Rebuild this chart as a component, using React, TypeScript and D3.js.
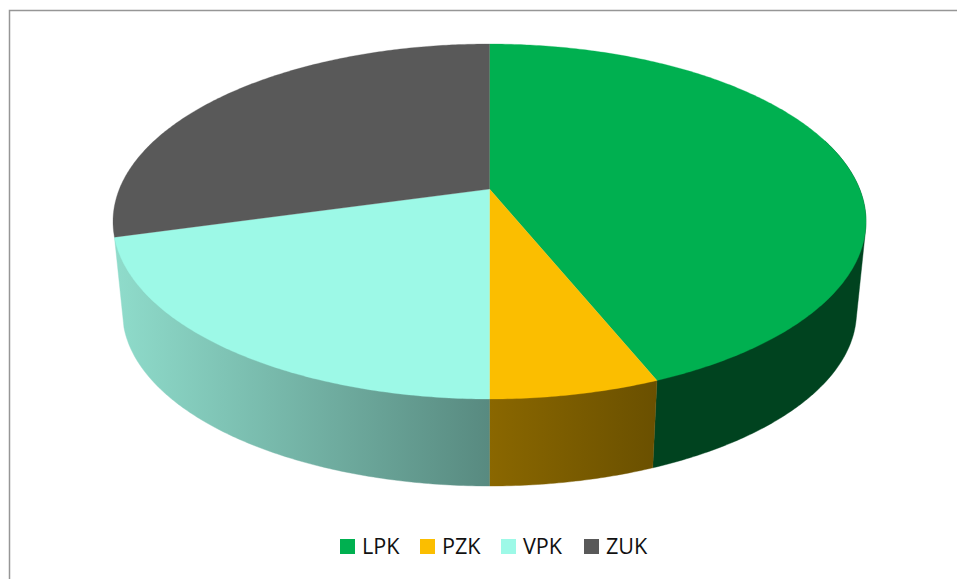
import React from "react";
import * as d3 from "d3";

const categories = ["LPK", "PZK", "VPK", "ZUK"];
const shares = [43.87, 6.13, 20.7, 29.3];
const topColors = ["#00B050", "#FBBE00", "#9DF9E7", "#595959"];
const wallFrom = ["#00431F", "#8A6700", "#8FDCCB", "#3A3A3A"];
const wallTo = ["#00431F", "#6A5000", "#588A80", "#3A3A3A"];

const W = 957, H = 579;
const top = { cx: 489.5, cy: 221.5, rx: 376.5, ry: 177.5 };
const bottom = { cx: 489.5, cy: 312, rx: 367, ry: 174 };
const tilt = -0.183; // perspective shift of the disc centre, in unit-ellipse terms
const legendX = [340, 420, 501, 584];

type E = typeof top;
// projective map of a unit-circle point so the true centre lands at the apex
const rim = (e: E, a: number): [number, number] => {
  const x = Math.sin(a), y = -Math.cos(a);
  const k = 1 + tilt * y;
  return [e.cx + e.rx * (x * Math.sqrt(1 - tilt * tilt)) / k, e.cy + e.ry * ((y + tilt) / k)];
};
const apex: [number, number] = [top.cx, top.cy + top.ry * tilt];

const arcs = d3.pie<number>().sort(null).value((d) => d)(shares);
const line = d3.line();
const samples = (a0: number, a1: number) => {
  const n = Math.max(2, Math.ceil((a1 - a0) / 0.01));
  return d3.range(n + 1).map((i) => a0 + ((a1 - a0) * i) / n);
};
// only the part of the rim that faces the viewer gets a wall
const wallStart = (i: number) => (i === 0 ? Math.PI / 2 - 0.3 : arcs[i].startAngle);

export default function App() {
  return (
    <svg width={W} height={H} style={{ position: "absolute", left: 0, top: 0, background: "#fff" }}>
      <defs>
        {categories.map((c, i) => {
          const xs = samples(wallStart(i), arcs[i].endAngle).map((t) => rim(top, t)[0]);
          const [x0, x1] = d3.extent(xs) as [number, number];
          return (
            <linearGradient key={c} id={`w${i}`} gradientUnits="userSpaceOnUse" x1={x0} x2={x1} y1={0} y2={0}>
              <stop offset="0" stopColor={wallFrom[i]} />
              <stop offset="1" stopColor={wallTo[i]} />
            </linearGradient>
          );
        })}
      </defs>
      <path d="M9.5 579V10.5H957" fill="none" stroke="#969696" strokeWidth={1.5} />
      {arcs.slice(0, 3).map((d, i) => {
        const pts = samples(wallStart(i), d.endAngle).flatMap((t) => [rim(top, t), rim(bottom, t)]);
        const hull = d3.polygonHull(pts)!;
        return (
          <path
            key={categories[i]}
            d={line(hull)! + "Z"}
            fill={`url(#w${i})`}
            stroke={`url(#w${i})`}
            strokeWidth={0.4}
          />
        );
      })}
      {arcs.map((d, i) => {
        const pts = samples(d.startAngle, d.endAngle).map((t) => rim(top, t));
        return (
          <path
            key={categories[i]}
            d={line([apex, ...pts])! + "Z"}
            fill={topColors[i]}
            stroke={topColors[i]}
            strokeWidth={0.3}
          />
        );
      })}
      {categories.map((c, i) => (
        <g key={c}>
          <rect x={legendX[i]} y={539} width={15} height={15} fill={topColors[i]} />
          <text x={legendX[i] + 22} y={554} fontFamily="'Open Sans', sans-serif" fontSize={21.6} fill="#111">
            {c}
          </text>
        </g>
      ))}
    </svg>
  );
}
